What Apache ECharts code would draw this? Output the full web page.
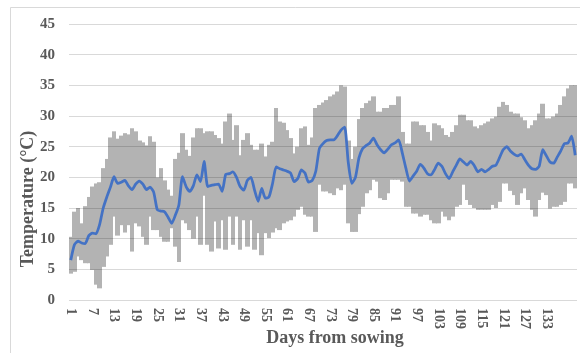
<!DOCTYPE html>
<html>
<head>
<meta charset="utf-8">
<script src="https://cdn.jsdelivr.net/npm/echarts@6/dist/echarts.min.js"></script>
<style>
html,body{margin:0;padding:0;background:#fff;}
#chart{width:580px;height:353px;}
</style>
</head>
<body>
<div id="chart"></div>
<script>
// Days from sowing
const days = [];
for (let d = 1; d <= 141; d++) days.push(String(d));

// Daily maximum temperature (°C)
const tMax = [
  10.3,14.4,15.0,12.5,15.3,16.8,18.5,19.0,19.2,21.5,
  23.0,26.5,27.5,26.3,26.8,27.2,27.0,28.0,27.5,26.0,
  25.7,25.2,26.7,25.8,20.0,21.5,19.5,18.0,17.0,23.0,
  24.0,27.2,24.5,23.5,26.5,28.0,28.0,27.2,27.5,27.5,
  26.9,26.4,25.5,29.1,30.4,26.1,28.5,23.6,26.1,27.2,
  25.3,24.5,24.5,25.5,23.4,25.3,25.8,31.3,29.1,28.9,
  27.7,26.4,23.9,25.0,28.0,28.3,25.3,26.5,31.3,31.8,
  32.2,32.6,33.2,33.5,34.0,35.0,34.8,26.0,23.0,25.0,
  29.5,31.3,32.1,32.5,33.2,30.7,30.7,31.3,31.3,31.8,
  31.8,33.2,27.4,25.5,25.5,29.1,29.1,28.5,28.5,27.4,
  26.0,28.8,28.5,28.0,26.9,26.6,27.4,28.5,30.2,30.2,
  29.3,29.3,28.3,28.0,28.5,28.8,29.1,29.6,29.9,31.5,
  32.3,31.8,30.7,30.4,30.4,29.8,29.3,28.0,28.5,29.3,
  30.4,32.0,29.6,29.6,29.9,30.4,31.8,33.2,34.5,35.0,
  35.0
];

// Daily minimum temperature (°C)
const tMin = [
  4.3,4.6,7.1,6.5,6.0,6.0,4.9,2.5,1.9,5.4,
  7.1,9.0,13.6,10.5,12.2,11.0,12.2,7.9,12.5,12.0,
  10.3,9.0,13.6,11.4,11.4,10.3,9.5,9.5,11.7,8.7,
  6.2,13.0,12.5,11.4,10.0,13.6,9.0,17.0,9.0,7.9,
  12.8,8.4,13.0,8.2,13.6,9.0,13.6,8.2,13.0,8.7,
  13.0,8.2,10.9,7.3,10.9,10.1,11.0,11.7,11.4,12.5,
  12.8,13.0,13.6,14.7,15.2,13.9,13.6,13.6,11.1,18.8,
  17.7,17.7,17.4,17.1,18.2,17.9,18.8,12.5,11.1,11.1,
  14.0,15.2,17.4,17.9,19.6,19.3,16.6,16.3,17.4,19.6,
  19.6,19.6,19.3,15.2,15.2,14.1,14.1,13.6,13.9,13.9,
  13.0,12.5,12.5,14.4,13.6,13.0,13.6,15.2,15.5,18.8,
  16.3,15.5,15.0,14.7,14.7,14.7,14.7,15.5,15.0,16.0,
  19.0,19.0,17.8,17.1,15.5,17.4,18.2,16.3,14.7,13.6,
  16.3,17.5,17.1,14.9,15.2,15.2,15.5,16.0,19.0,19.0,
  18.2
];

// Daily mean temperature (°C)
const tMean = [
  6.5,9.0,9.6,9.3,9.2,10.5,10.9,10.8,12.3,15.0,
  16.8,18.4,20.1,19.0,19.2,19.5,18.6,18.0,18.9,19.4,
  18.9,18.0,18.4,17.6,14.7,14.5,14.4,13.5,12.5,13.8,
  15.5,20.1,18.5,17.7,18.6,20.4,19.3,22.6,18.5,18.7,
  18.8,18.9,17.7,20.5,20.6,20.9,20.0,18.5,17.9,19.5,
  20.0,17.9,16.1,18.2,16.6,16.8,19.0,21.7,21.4,21.2,
  21.0,20.7,19.3,19.8,21.2,20.7,19.2,19.5,21.0,24.7,
  25.5,26.0,26.1,26.1,26.8,27.7,28.2,22.5,19.0,20.0,
  23.2,24.7,25.2,25.6,26.4,25.3,24.5,24.0,24.6,25.3,
  25.6,26.1,24.0,21.5,19.4,20.2,21.0,22.1,21.5,20.6,
  20.4,21.3,22.3,21.8,20.6,19.8,20.9,22.0,23.0,22.5,
  22.0,22.6,21.9,20.9,21.3,20.9,21.3,21.8,22.0,23.2,
  24.5,25.0,24.3,23.8,23.5,23.8,22.9,22.0,21.4,21.3,
  21.8,24.5,23.5,22.5,22.3,23.3,24.3,25.5,25.6,26.7,
  23.6
];

const yTicks = [0,5,10,15,20,25,30,35,40,45];

// table for the range bars: [category index, min, max]
const rangeData = tMin.map((v, i) => [i, v, tMax[i]]);

function renderRange(params, api) {
  const idx = api.value(0);
  const lo = api.coord([idx, api.value(1)]);
  const hi = api.coord([idx, api.value(2)]);
  const w = api.size([1, 0])[0];
  const x0 = Math.floor(lo[0] - w / 2);
  const x1 = Math.ceil(lo[0] + w / 2);
  return {
    type: 'rect',
    shape: {x: x0, y: hi[1], width: x1 - x0, height: lo[1] - hi[1]},
    style: {fill: '#b3b3b3'}
  };
}

const chart = echarts.init(document.getElementById('chart'), null, {renderer: 'canvas'});
const font = '"Liberation Serif", "Times New Roman", serif';
chart.setOption({
  animation: false,
  backgroundColor: '#ffffff',
  grid: {left: 69, right: 3, top: 24, bottom: 53, containLabel: false},
  xAxis: {
    type: 'category',
    data: days,
    boundaryGap: true,
    axisLine: {show: false},
    axisTick: {show: false},
    axisLabel: {
      rotate: -90,
      margin: 8,
      interval: function (idx) { return idx % 6 === 0 && idx <= 132; },
      fontFamily: font, fontWeight: 'bold', fontSize: 14, color: '#595959'
    },
    splitLine: {show: false}
  },
  yAxis: {
    type: 'value',
    min: 0, max: 45, interval: 5,
    axisLine: {show: false},
    axisTick: {show: false},
    axisLabel: {
      margin: 14,
      fontFamily: font, fontWeight: 'bold', fontSize: 15, color: '#595959',
      formatter: function (v) { return yTicks.indexOf(v) >= 0 ? String(v) : ''; }
    },
    splitLine: {show: false}
  },
  series: [
    {
      name: 'Range', type: 'custom', data: rangeData,
      renderItem: renderRange,
      encode: {x: 0, y: [1, 2]},
      z: 2,
      markLine: {
        silent: true, symbol: 'none', animation: false,
        label: {show: false},
        lineStyle: {color: 'rgba(0,0,0,0.15)', type: 'solid', width: 1},
        data: yTicks.map(v => ({yAxis: v}))
      }
    },
    {
      name: 'Mean', type: 'line', data: tMean,
      symbol: 'none', smooth: 0.2,
      lineStyle: {color: '#4472C4', width: 2.75},
      z: 5
    }
  ],
  graphic: [
    {type: 'rect', shape: {x: 10.5, y: 7.5, width: 700, height: 500},
     style: {fill: 'none', stroke: '#d9d9d9', lineWidth: 1}, silent: true, z: -10},
    {type: 'text', x: 28, y: 199, rotation: Math.PI / 2,
     style: {text: 'Temperature (°C)', font: 'bold 18px ' + font, fill: '#595959',
             align: 'center', verticalAlign: 'middle'}},
    {type: 'text', x: 335, y: 338,
     style: {text: 'Days from sowing', font: 'bold 18px ' + font, fill: '#595959',
             align: 'center', verticalAlign: 'middle'}}
  ]
});
</script>
</body>
</html>
